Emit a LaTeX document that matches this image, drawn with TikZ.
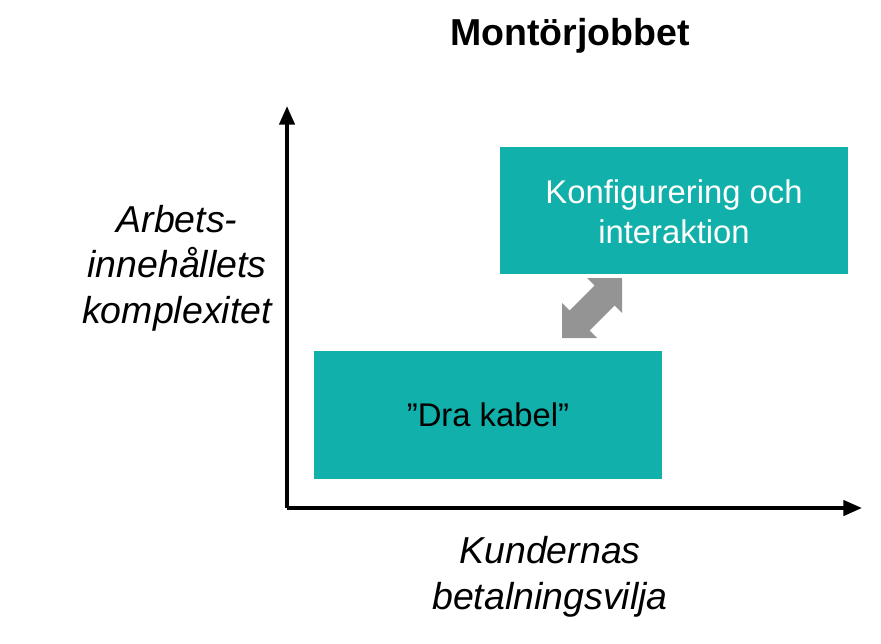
\documentclass[tikz,border=0pt]{standalone}
\usepackage{fontspec}
\setmainfont{Liberation Sans}
\usetikzlibrary{arrows.meta}
\begin{document}
\begin{tikzpicture}[x=0.03cm,y=-0.03cm,
  box/.style={fill=teal1,draw=none,text=#1,font=\fontsize{28}{34}\selectfont,align=center,inner sep=0},
  axis/.style={line width=3.2pt,-{Stealth[length=16pt,width=13pt,inset=0pt]}},
  lbl/.style={font=\fontsize{32}{39}\itshape\selectfont,align=center}]
\definecolor{teal1}{HTML}{12B0AA}
\useasboundingbox (0,0) rectangle (881,643);
\coordinate (o) at (287,508);
\coordinate (ytop) at (287,106);
\coordinate (xend) at (862,508);
\draw[axis] (o) -- (ytop);
\draw[axis] (o) -- (xend);
\node[font=\fontsize{32}{36}\bfseries\selectfont] (title) at (570,36) {Montörjobbet};
\path[fill=teal1] (500,147) rectangle (848,274);
\node[box=white] (k) at (674,212) {Konfigurering och\\interaktion};
\path[fill=teal1] (314,351) rectangle (662,479);
\node[box=black] (d) at (488,415) {”Dra kabel”};
\node[lbl] (yl) at (177,268) {Arbets-\\innehållets\\komplexitet};
\node[lbl] (xl) at (550,577) {Kundernas\\betalningsvilja};
\fill[gray!80!black!70] (622,278) -- (622,313) -- (614.5,305.5) -- (589.5,330.5) -- (597,338)
  -- (562,338) -- (562,303) -- (569.5,310.5) -- (594.5,285.5) -- (587,278) -- cycle;
\end{tikzpicture}
\end{document}
